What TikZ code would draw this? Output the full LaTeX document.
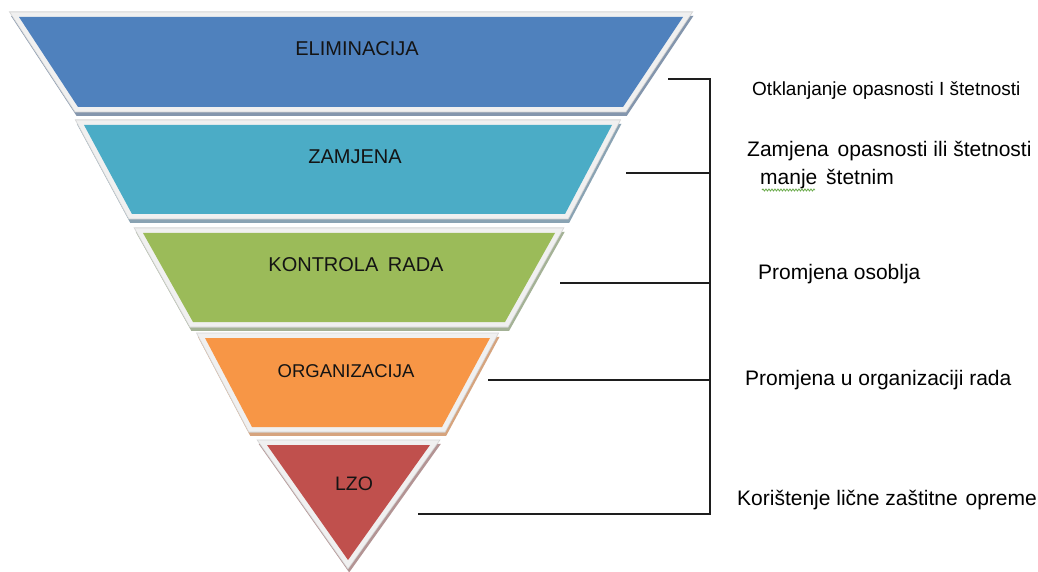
\documentclass[tikz,border=0pt]{standalone}
\usepackage{fontspec}
\setmainfont{Liberation Sans}
\usetikzlibrary{decorations.pathmorphing}
\definecolor{cBlue}{HTML}{4F81BD}
\definecolor{cAqua}{HTML}{4BACC6}
\definecolor{cGreen}{HTML}{9BBB59}
\definecolor{cOrange}{HTML}{F79646}
\definecolor{cRed}{HTML}{C0504D}
\definecolor{sBlue}{HTML}{8496AD}
\definecolor{sAqua}{HTML}{8AA3B3}
\definecolor{sGreen}{HTML}{A4B296}
\definecolor{sOrange}{HTML}{D6A47E}
\definecolor{sRed}{HTML}{B39494}
\definecolor{frameFill}{HTML}{F0F0F0}
\definecolor{frameEdge}{HTML}{D4D4D4}
\definecolor{lineCol}{HTML}{1E1E1E}
\definecolor{txtCol}{HTML}{141414}
\definecolor{spellGreen}{HTML}{6AAA4A}
\tikzset{
  shadowband/.style={fill=#1, draw=#1, line width=10bp, line join=miter, miter limit=20, shift={(1.2,3.8)}},
  edgeband/.style={fill=frameEdge, draw=frameEdge, line width=11bp, line join=miter, miter limit=20},
  frameband/.style={fill=frameFill, draw=frameFill, line width=9.4bp, line join=miter, miter limit=20},
  bandlbl/.style={inner sep=0pt, anchor=base, text=txtCol, font=\fontsize{20bp}{24bp}\selectfont},
  sidelbl/.style={inner sep=0pt, anchor=base west, text=black, font=\fontsize{21bp}{24bp}\selectfont},
  conn/.style={draw=lineCol, line width=1.4bp},
}
\newcommand{\myband}[3]{%
  \path[shadowband=#2] #3 -- cycle;
  \path[edgeband] #3 -- cycle;
  \path[frameband] #3 -- cycle;
  \fill[#1] #3 -- cycle;
}
\begin{document}
\begin{tikzpicture}[x=1bp, y=-1bp]
\fill[white] (0,0) rectangle (1038,572);
\useasboundingbox (0,0) rectangle (1038,572);

% bands
\myband{cBlue}{sBlue}{(19,17) -- (683,17) -- (623,107) -- (78,107)}
\myband{cAqua}{sAqua}{(84,125) -- (612,125) -- (565,214) -- (132,214)}
\myband{cGreen}{sGreen}{(143,233) -- (555,233) -- (505,322) -- (193,322)}
\myband{cOrange}{sOrange}{(205,338) -- (490,338) -- (442,427) -- (252,427)}
\myband{cRed}{sRed}{(267,445) -- (430,445) -- (348,560)}

% band labels
\node[bandlbl] (l1) at (357,56) {ELIMINACIJA};
\node[bandlbl] (l2) at (355,164) {ZAMJENA};
\node[bandlbl] (l3) at (356,272) {KONTROLA\hspace{4bp} RADA};
\node[bandlbl, font=\fontsize{18.5bp}{22bp}\selectfont] (l4) at (346,377) {ORGANIZACIJA};
\node[bandlbl, font=\fontsize{19.5bp}{22bp}\selectfont] (l5) at (354,490) {LZO};

% bracket
\coordinate (b1) at (668,79);  \coordinate (v1) at (710,79);
\coordinate (b2) at (626,173); \coordinate (v2) at (710,173);
\coordinate (b3) at (560,283); \coordinate (v3) at (710,283);
\coordinate (b4) at (488,380); \coordinate (v4) at (710,380);
\coordinate (b5) at (418,514); \coordinate (v5) at (710,514);
\draw[conn, line join=miter] (b1) -- (v1) -- (v5) -- (b5);
\draw[conn] (b2) -- (v2);
\draw[conn] (b3) -- (v3);
\draw[conn] (b4) -- (v4);

% side labels
\node[sidelbl, font=\fontsize{19bp}{22bp}\selectfont] (r1) at (752,96) {Otklanjanje opasnosti I štetnosti};
\node[sidelbl] (r2) at (747,157) {Zamjena\hspace{3bp} opasnosti ili štetnosti};
\node[sidelbl] (r2b) at (760,185) {manje\hspace{3bp} štetnim};
\node[sidelbl] (r3) at (758,280) {Promjena osoblja};
\node[sidelbl] (r4) at (745,385) {Promjena u organizaciji rada};
\node[sidelbl] (r5) at (737,505) {Korištenje lične zaštitne\hspace{2bp} opreme};

% spell-check squiggle under "manje"
\draw[spellGreen, line width=0.8bp, decorate, decoration={snake, amplitude=1bp, segment length=3bp}] (762,190) -- (815,190);
\end{tikzpicture}
\end{document}
